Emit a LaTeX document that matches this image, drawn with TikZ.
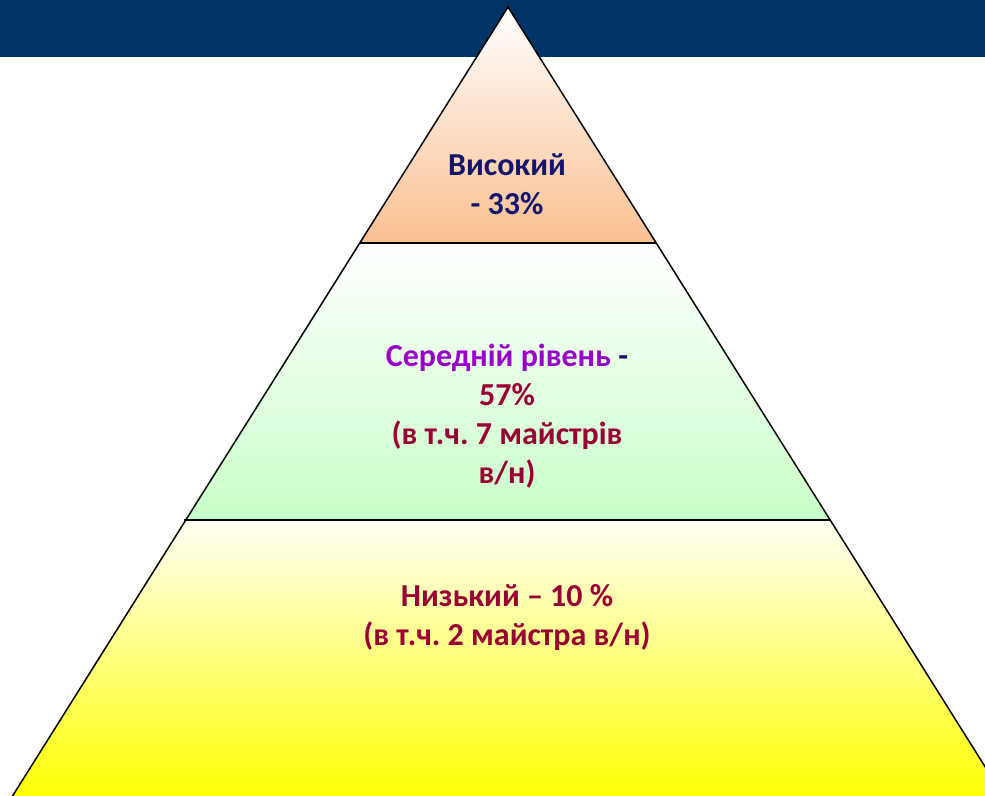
\documentclass[tikz,border=0pt]{standalone}
\usepackage{fontspec}
\setmainfont{Carlito}
\usepackage{tikz}

\definecolor{barblue}{RGB}{0,51,102}
\definecolor{peach}{RGB}{250,192,144}
\definecolor{mint}{RGB}{200,255,200}
\definecolor{ivory}{RGB}{255,255,245}
\definecolor{paleyellow}{RGB}{255,255,175}
\definecolor{lemon}{RGB}{255,255,0}
\definecolor{inkblue}{RGB}{20,20,110}
\definecolor{violet}{RGB}{153,0,204}
\definecolor{crimson}{RGB}{153,0,51}

\begin{document}
\frenchspacing
\begin{tikzpicture}[x=1pt,y=1pt]
\tikzstyle{every node}+=[inner sep=0pt, align=center, font=\bfseries\fontsize{32}{39}\selectfont]
\useasboundingbox (0,0) rectangle (985,-795);
\clip (0,0) rectangle (985,-795);
\fill [barblue] (0,0) rectangle (985,-57);
\coordinate (apex) at (508,-7);
\coordinate (tl) at (359,-243);
\coordinate (tr) at (657,-243);
\coordinate (ml) at (184,-520);
\coordinate (mr) at (830,-520);
\coordinate (bl) at (10,-800);
\coordinate (br) at (1006,-800);
\shade [top color=white, bottom color=peach] (apex) -- (tr) -- (tl) -- cycle;
\shade [top color=white, bottom color=mint] (tl) -- (tr) -- (mr) -- (ml) -- cycle;
\shade [top color=ivory, middle color=paleyellow, bottom color=lemon] (ml) -- (mr) -- (br) -- (bl) -- cycle;
\draw [black, line width=1.5pt, line join=miter] (bl) -- (apex) -- (br);
\draw [black, line width=1.8pt] (tl) -- (tr);
\draw [black, line width=1.8pt] (ml) -- (mr);
\node [text=inkblue] (high) at (507,-184) {Високий\\- 33\%};
\node [text=crimson] (mid) at (507,-416) {\textcolor{violet}{Середній рівень} \textcolor{inkblue}{-}\\57\%\\(в т.ч. 7 майстрів\\в/н)};
\node [text=crimson] (low) at (507,-617) {Низький – 10 \%\\(в т.ч. 2 майстра в/н)};
\end{tikzpicture}
\end{document}
